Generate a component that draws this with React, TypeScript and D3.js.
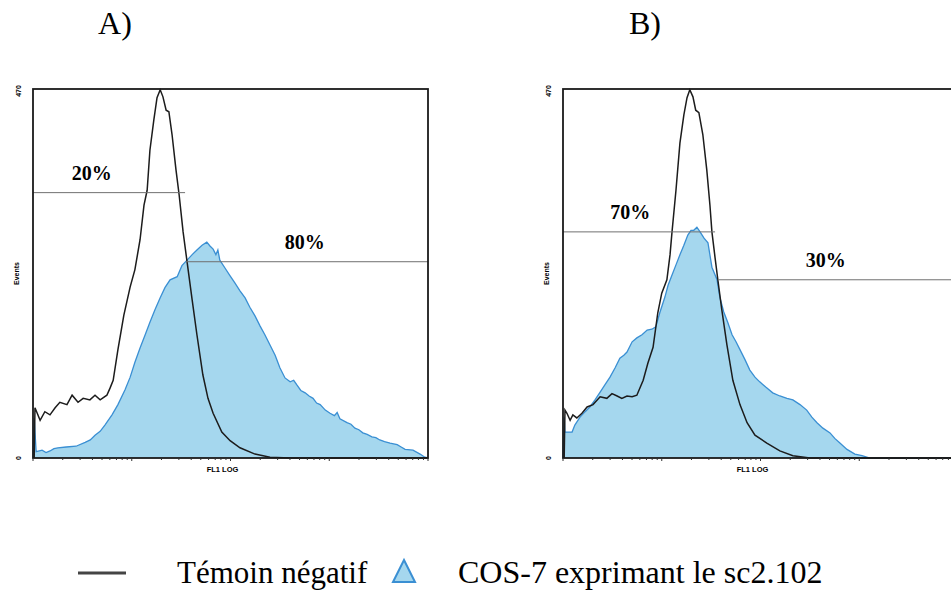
import React from 'react';
import * as d3 from 'd3';

const W = 951;
const H = 590;

// axis ranges (channels 0..1000 on FL1 LOG, events 0..470)
const chMax = 1000;
const yMax = 470;
const yTickLabels = ['0', '470'];
const titles = ['A)', 'B)'];
const legendLabels = ['Témoin négatif', 'COS-7 exprimant le sc2.102'];

// panel A - témoin négatif (black line)
const blackA: [number, number][] = [
  [3, 0], [5, 64], [18, 48], [30, 59], [43, 55], [56, 64], [68, 71], [86, 68], [99, 80],
  [114, 71], [127, 76], [144, 74], [157, 80], [170, 74], [187, 80], [195, 89], [203, 99],
  [215, 138], [230, 182], [246, 218], [258, 240], [271, 278], [281, 322], [289, 341],
  [296, 392], [306, 431], [314, 459], [322, 469], [329, 460], [337, 443], [344, 441],
  [352, 412], [362, 367], [370, 335], [380, 288], [390, 250], [403, 201], [415, 157],
  [430, 106], [443, 76], [456, 57], [478, 33], [499, 22], [524, 13], [562, 5], [600, 1],
  [651, 0], [1000, 0],
];

// panel A - COS-7 exprimant le sc2.102 (blue area)
const blueA: [number, number][] = [
  [0, 0], [3, 51], [8, 8], [23, 10], [33, 7], [43, 9], [53, 12], [63, 13], [84, 14], [109, 15],
  [132, 20], [145, 23], [157, 29], [170, 34], [182, 42], [200, 55], [215, 68], [233, 87],
  [246, 103], [258, 122], [271, 140], [284, 157], [296, 173], [309, 189], [322, 204],
  [334, 217], [347, 227], [365, 231], [377, 245], [390, 252], [403, 259], [415, 265],
  [428, 271], [440, 275], [448, 270], [456, 266], [463, 259], [468, 265], [473, 252],
  [486, 242], [499, 232], [511, 223], [524, 213], [537, 204], [549, 192], [562, 181],
  [575, 168], [587, 157], [600, 144], [613, 131], [625, 115], [638, 102], [651, 97],
  [660, 99], [668, 93], [678, 86], [689, 83], [699, 79], [709, 76], [718, 70], [727, 68],
  [740, 61], [752, 57], [763, 54], [770, 58], [777, 50], [795, 45], [805, 43], [815, 38],
  [825, 36], [835, 32], [846, 30], [858, 27], [868, 26], [878, 23], [890, 21], [904, 19],
  [922, 17], [932, 14], [942, 11], [962, 10], [980, 5], [992, 1], [1000, 0],
];

// panel B - témoin négatif
const blackB: [number, number][] = [
  [3, 0], [5, 61], [10, 57], [18, 48], [25, 55], [35, 51], [48, 57], [61, 65], [76, 68],
  [94, 78], [111, 76], [124, 82], [137, 79], [149, 76], [162, 79], [175, 78], [187, 80],
  [203, 99], [215, 121], [228, 141], [240, 185], [250, 210], [263, 227], [271, 259],
  [276, 288], [286, 341], [296, 401], [306, 437], [314, 459], [321, 469], [329, 460],
  [336, 443], [344, 440], [354, 412], [364, 367], [372, 322], [377, 288], [385, 255],
  [392, 227], [402, 189], [415, 144], [430, 99], [448, 68], [466, 45], [486, 29], [516, 19],
  [549, 9], [582, 3], [625, 0], [1000, 0],
];

// panel B - COS-7 exprimant le sc2.102
const blueB: [number, number][] = [
  [0, 0], [3, 52], [5, 33], [23, 33], [30, 42], [43, 52], [56, 59], [68, 65], [81, 74],
  [94, 84], [106, 93], [119, 103], [132, 115], [144, 127], [154, 131], [162, 135], [175, 148],
  [187, 153], [200, 157], [213, 163], [225, 164], [235, 167], [245, 185], [258, 205],
  [266, 220], [276, 233], [286, 246], [296, 259], [306, 271], [316, 284], [324, 290],
  [331, 290], [339, 294], [347, 288], [357, 280], [367, 274], [377, 243], [390, 227],
  [397, 205], [407, 186], [417, 173], [428, 157], [438, 148], [448, 138], [461, 125],
  [473, 112], [486, 103], [498, 97], [514, 90], [531, 83], [549, 79], [567, 76], [582, 74],
  [600, 68], [617, 61], [630, 52], [643, 45], [658, 38], [676, 32], [688, 25], [701, 19],
  [719, 11], [739, 5], [757, 3], [777, 0], [1000, 0],
];

type Gate = { from: number; to: number; level: number; label: string; labelCh: number };

const gatesA: Gate[] = [
  { from: 0, to: 385, level: 338, label: '20%', labelCh: 149 },
  { from: 387, to: 1000, level: 250, label: '80%', labelCh: 688 },
];
const gatesB: Gate[] = [
  { from: 0, to: 385, level: 288, label: '70%', labelCh: 170 },
  { from: 392, to: 1000, level: 227, label: '30%', labelCh: 665 },
];

const seriesBlack = [blackA, blackB];
const seriesBlue = [blueA, blueB];
const seriesGates = [gatesA, gatesB];

const BLUE_FILL = '#a5d7ee';
const BLUE_LINE = '#3a8fd3';
const SERIF = '"Liberation Serif", "DejaVu Serif", serif';
const SANS = '"Liberation Sans", Arial, sans-serif';

const plotW = 395;
const plotTop = 89;
const plotBottom = 458;

function Panel({ idx, left }: { idx: number; left: number }) {
  const x = d3.scaleLinear().domain([0, chMax]).range([left, left + plotW]);
  const y = d3.scaleLinear().domain([0, yMax]).range([plotBottom, plotTop]);
  const xLog = d3.scaleLog().domain([1, 10000]).range([left, left + plotW]);

  const area = d3
    .area<[number, number]>()
    .x((d) => x(d[0]))
    .y0(y(0))
    .y1((d) => y(d[1]));
  const line = d3
    .line<[number, number]>()
    .x((d) => x(d[0]))
    .y((d) => y(d[1]));

  const logTicks = xLog.ticks();
  const mid = (left + left + plotW) / 2;

  return (
    <g>
      <text x={left + 82} y={34} textAnchor="middle" fontFamily={SERIF} fontSize={32}>
        {titles[idx]}
      </text>

      <path d={area(seriesBlue[idx]) || ''} fill={BLUE_FILL} />
      <path d={line(seriesBlue[idx]) || ''} fill="none" stroke={BLUE_LINE} strokeWidth={1.3} />
      <path d={line(seriesBlack[idx]) || ''} fill="none" stroke="#1c1c1c" strokeWidth={1.5} />

      {seriesGates[idx].map((g) => (
        <g key={g.label}>
          <line x1={x(g.from)} x2={x(g.to)} y1={y(g.level)} y2={y(g.level)} stroke="#707070" strokeWidth={1} />
          <text
            x={x(g.labelCh)}
            y={y(g.level) - 13}
            textAnchor="middle"
            fontFamily={SERIF}
            fontWeight="bold"
            fontSize={20}
          >
            {g.label}
          </text>
        </g>
      ))}

      <rect x={left} y={plotTop} width={plotW} height={plotBottom - plotTop} fill="none" stroke="#1a1a1a" strokeWidth={1.8} />

      {logTicks.map((t, i) => {
        const major = Math.log10(t) % 1 === 0;
        return (
          <line
            key={i}
            x1={xLog(t)}
            x2={xLog(t)}
            y1={plotBottom}
            y2={plotBottom + (major ? 3 : 2)}
            stroke="#333"
            strokeWidth={1}
          />
        );
      })}

      {[0, yMax].map((v, i) => (
        <text
          key={v}
          transform={`translate(${left - 14},${y(v) + (i === 1 ? 2 : 0)}) rotate(-90)`}
          textAnchor="middle"
          dy="0.35em"
          fontFamily={SANS}
          fontWeight="bold"
          fontSize={7}
        >
          {yTickLabels[i]}
        </text>
      ))}
      <text
        transform={`translate(${left - 16},${y(yMax / 2)}) rotate(-90)`}
        textAnchor="middle"
        dy="0.35em"
        fontFamily={SANS}
        fontWeight="bold"
        fontSize={7}
      >
        Events
      </text>
      <text x={mid - 8} y={472} textAnchor="middle" fontFamily={SANS} fontWeight="bold" fontSize={7.5}>
        FL1 LOG
      </text>
    </g>
  );
}

export default function App() {
  const lefts = [33, 563];
  return (
    <svg
      width={W}
      height={H}
      viewBox={`0 0 ${W} ${H}`}
      style={{ position: 'absolute', left: 0, top: 0, background: '#fff' }}
    >
      <rect width={W} height={H} fill="#fff" />
      {lefts.map((l, i) => (
        <Panel key={i} idx={i} left={l} />
      ))}

      {/* legend */}
      <line x1={78} x2={126} y1={573} y2={573} stroke="#444" strokeWidth={3} />
      <text x={177} y={583} fontFamily={SERIF} fontSize={31}>
        {legendLabels[0]}
      </text>
      <path d="M404,560 L415,582 L393,582 Z" fill={BLUE_FILL} stroke={BLUE_LINE} strokeWidth={2} />
      <text x={458} y={583} fontFamily={SERIF} fontSize={32}>
        {legendLabels[1]}
      </text>
    </svg>
  );
}
